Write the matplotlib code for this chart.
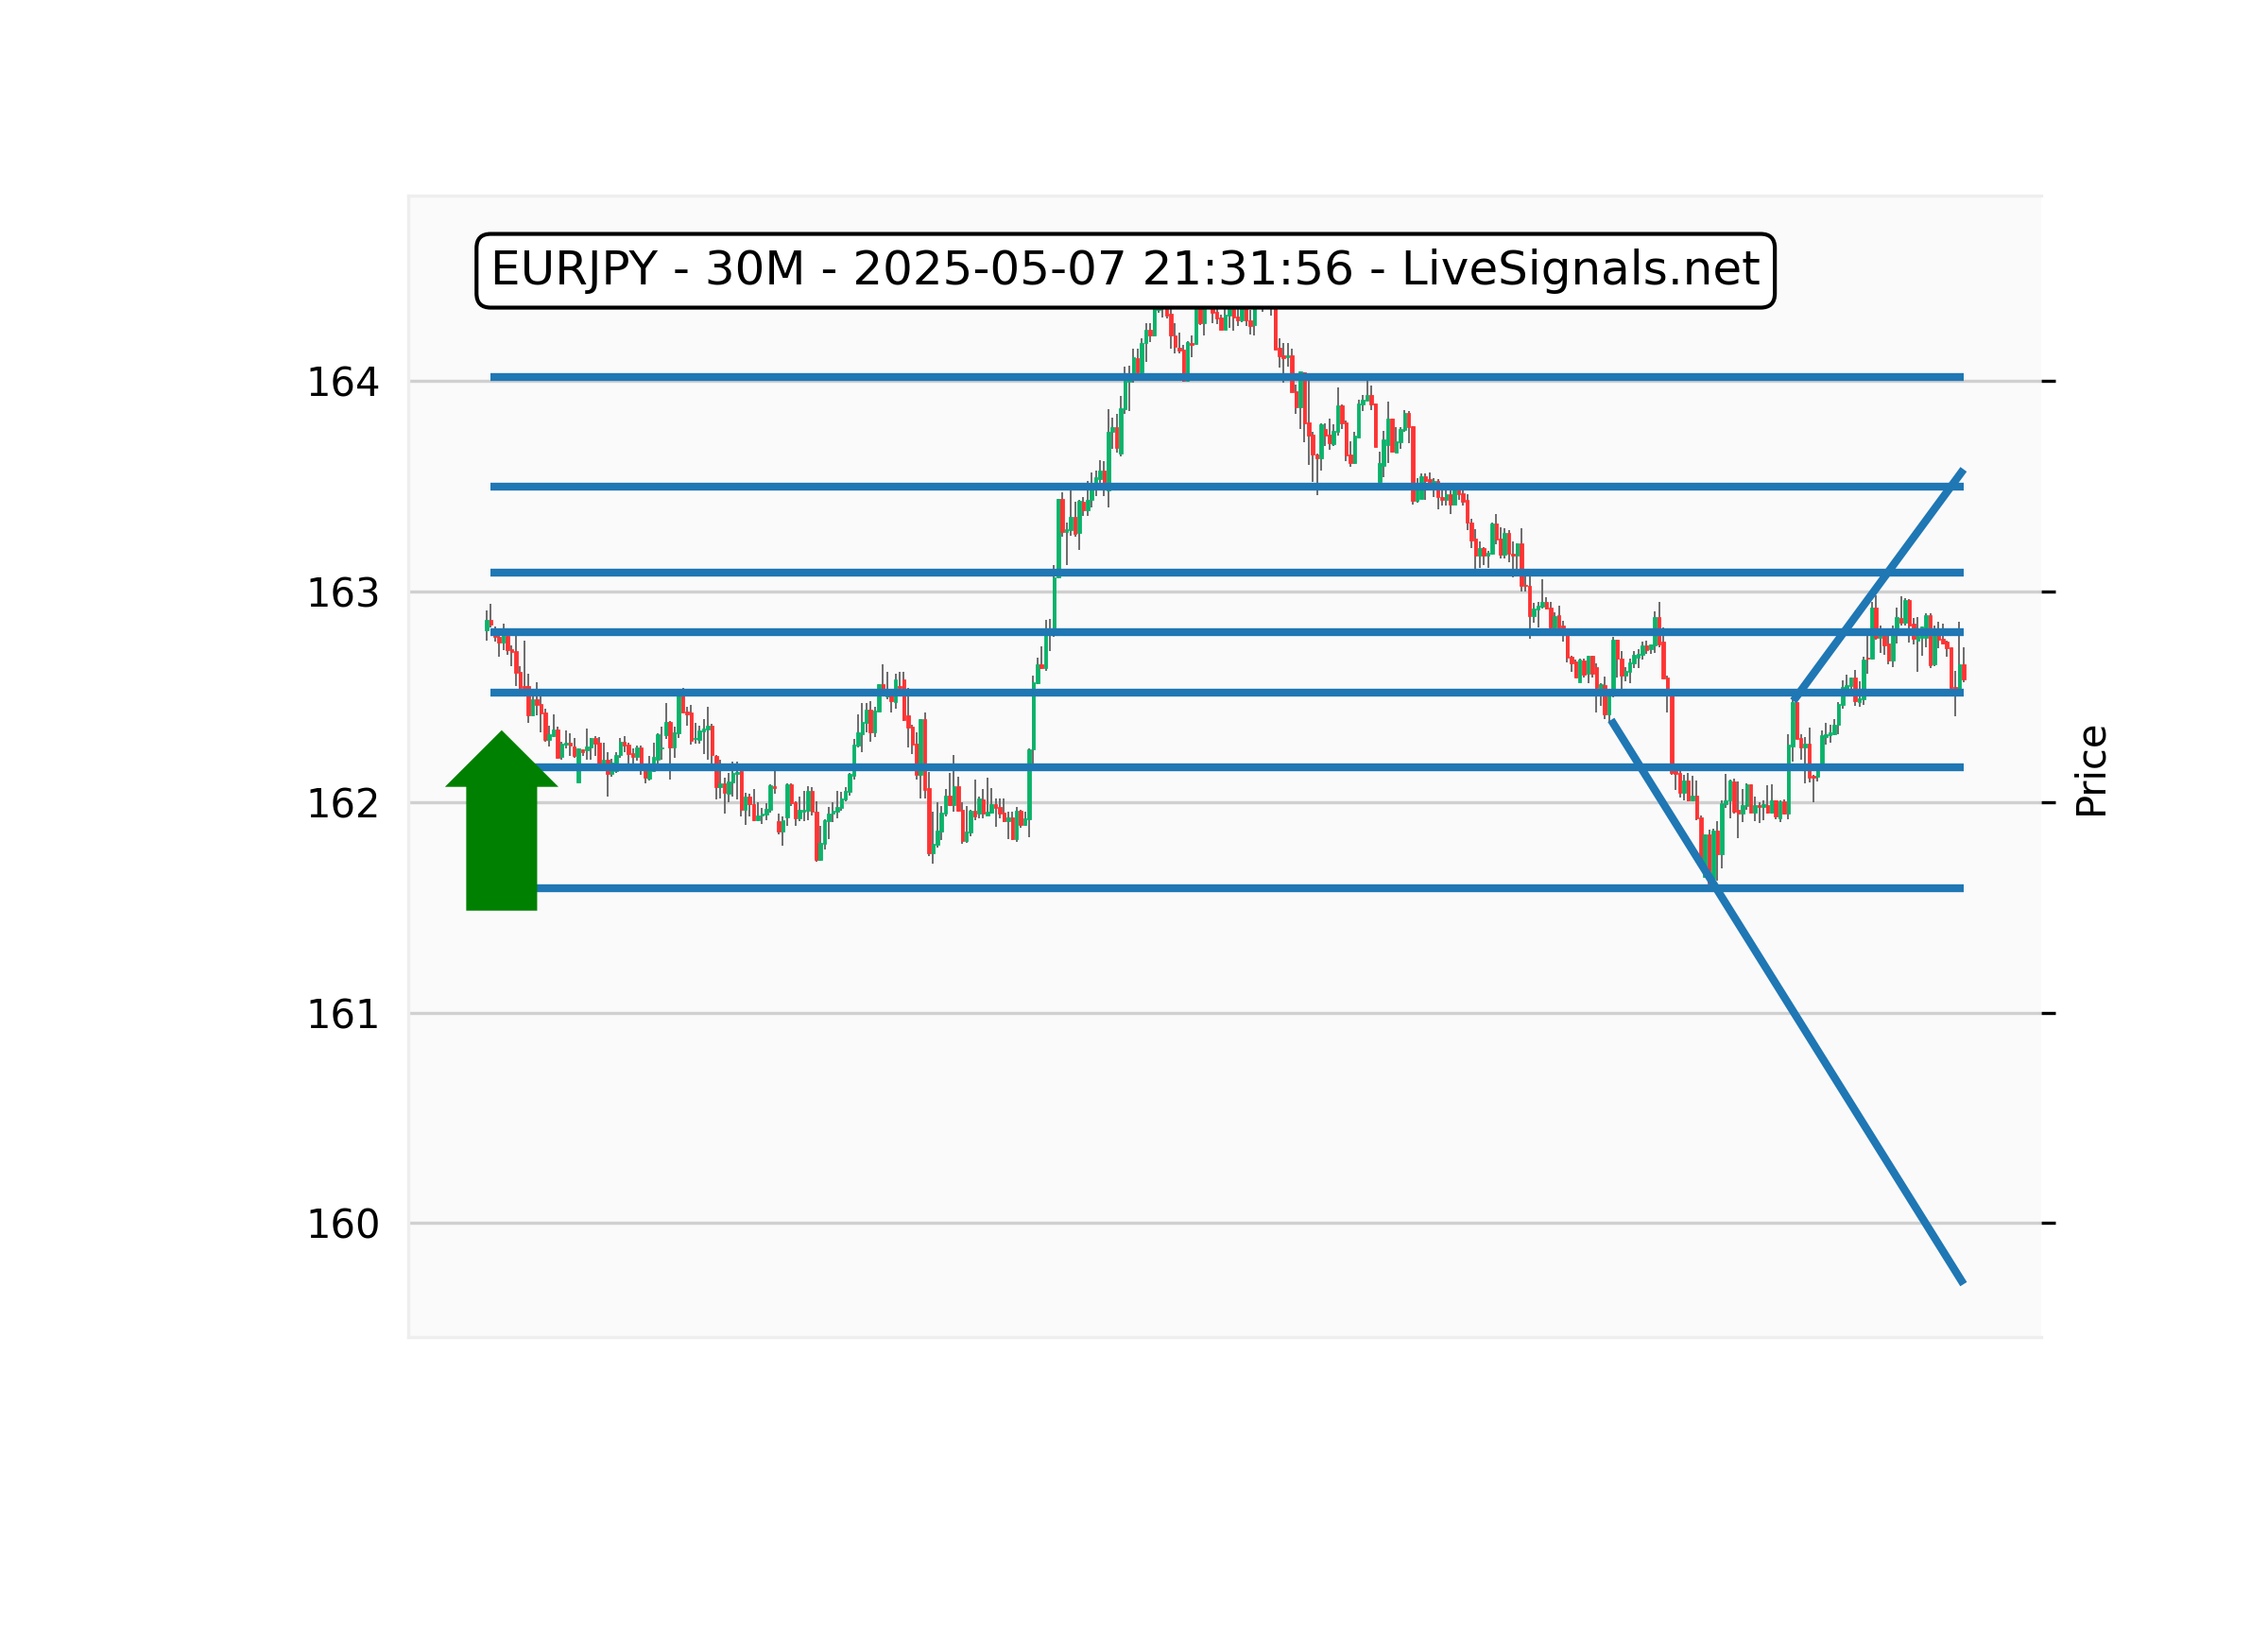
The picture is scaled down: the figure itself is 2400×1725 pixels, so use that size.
import numpy as np
import matplotlib
matplotlib.use('Agg')
import matplotlib.pyplot as plt

title = 'EURJPY - 30M - 2025-05-07 21:31:56 - LiveSignals.net'
levels = [164.018, 163.498, 163.09, 162.807, 162.52, 162.167, 161.59]
level_span = [1, 354]
down_x = [269.5, 354]
down_y = [162.39, 159.71]
up_x = [313.2, 354]
up_y = [162.48, 163.58]
arrow_x = 3.6
arrow_base = 161.484
arrow_tip = 162.341
yticks = [160, 161, 162, 163, 164]

opens = [162.816,162.864,162.81,162.786,162.756,162.79,162.727,162.717,162.619,162.55,
162.55,162.413,162.489,162.466,162.426,162.296,162.315,162.345,162.214,162.272,
162.282,162.263,162.093,162.248,162.244,162.26,162.305,162.282,162.17,162.2,
162.134,162.146,162.221,162.285,162.273,162.233,162.214,162.26,162.16,162.109,
162.146,162.203,162.255,162.318,162.381,162.258,162.326,162.508,162.43,162.426,
162.3,162.296,162.336,162.345,162.363,162.22,162.072,162.09,162.039,162.093,
162.135,162.146,161.964,162.027,161.989,161.915,161.934,161.94,161.964,162.075,
161.91,161.86,161.927,162.082,162.001,161.922,161.952,161.96,162.054,161.952,
161.725,161.802,161.907,161.945,161.955,161.97,162.012,162.048,162.124,162.266,
162.323,162.378,162.438,162.33,162.43,162.56,162.5,162.508,162.475,162.55,
162.583,162.412,162.359,162.278,162.131,162.395,162.067,161.758,161.797,161.859,
161.945,162.031,161.987,162.076,161.963,161.815,161.855,161.96,161.945,162.012,
161.937,161.949,161.992,161.977,161.949,161.91,161.928,161.825,161.96,161.892,
161.918,162.248,162.565,162.655,162.637,162.8,162.82,163.067,163.441,163.281,
163.291,163.354,163.277,163.426,163.386,163.434,163.486,163.535,163.574,163.478,
163.758,163.78,163.656,163.867,163.994,164.017,164.109,164.043,164.178,164.241,
164.214,164.338,164.38,164.37,164.32,164.218,164.156,164.147,164.0,164.181,
164.174,164.35,164.274,164.40,164.36,164.327,164.30,164.243,164.308,164.35,
164.304,164.289,164.345,164.289,164.266,164.42,164.39,164.42,164.39,164.36,
164.159,164.12,164.114,164.123,163.949,163.875,164.04,163.804,163.745,163.65,
163.634,163.77,163.745,163.70,163.76,163.882,163.804,163.65,163.61,163.733,
163.89,163.904,163.934,163.894,163.52,163.598,163.695,163.822,163.658,163.71,
163.765,163.849,163.785,163.431,163.44,163.548,163.535,163.505,163.523,163.449,
163.437,163.464,163.413,163.483,163.467,163.434,163.329,163.25,163.168,163.205,
163.168,163.179,163.324,163.25,163.175,163.277,163.18,163.172,163.227,163.033,
163.027,162.885,162.913,162.929,162.952,162.922,162.829,162.886,162.838,162.802,
162.69,162.668,162.571,162.671,162.608,162.693,162.642,162.53,162.556,162.417,
162.504,162.77,162.683,162.598,162.616,162.66,162.687,162.698,162.743,162.725,
162.743,162.877,162.76,162.593,162.504,162.145,162.138,162.043,162.103,162.006,
162.032,161.928,161.645,161.846,161.637,161.864,161.754,161.988,162.008,162.097,
161.963,161.943,161.981,162.082,161.951,161.985,161.975,161.985,161.951,162.008,
161.921,162.003,161.943,162.265,162.474,162.306,162.257,162.277,162.126,162.118,
162.16,162.309,162.317,162.321,162.366,162.462,162.504,162.552,162.59,162.474,
162.489,162.687,162.679,162.925,162.78,162.791,162.754,162.671,162.795,162.873,
162.851,162.96,162.845,162.765,162.78,162.78,162.888,162.653,162.791,162.773,
162.761,162.733,162.546,162.534,162.656]

closes = [162.864,162.842,162.786,162.756,162.797,162.72,162.712,162.613,162.544,162.542,
162.41,162.49,162.46,162.42,162.293,162.323,162.345,162.21,162.278,162.281,
162.269,162.218,162.255,162.236,162.265,162.305,162.276,162.176,162.2,162.134,
162.188,162.224,162.287,162.269,162.229,162.214,162.258,162.16,162.116,162.154,
162.215,162.32,162.258,162.381,162.258,162.333,162.508,162.423,162.418,162.291,
162.305,162.341,162.349,162.363,162.221,162.072,162.09,162.042,162.099,162.139,
162.143,161.964,162.027,161.988,161.915,161.937,161.947,161.967,162.079,162.067,
161.86,161.915,162.084,161.994,161.922,161.964,161.964,162.054,161.952,161.725,
161.806,161.915,161.945,161.96,161.977,162.016,162.052,162.132,162.273,162.33,
162.381,162.438,162.33,162.433,162.562,162.505,162.52,162.478,162.583,162.54,
162.389,162.353,162.272,162.131,162.395,162.057,161.758,161.803,161.865,161.949,
162.031,161.987,162.076,161.96,161.815,161.859,161.96,161.933,162.015,161.945,
161.952,161.989,161.971,161.945,161.91,161.928,161.825,161.96,161.892,161.922,
162.251,162.568,162.655,162.635,162.81,162.81,163.069,163.441,163.281,163.296,
163.354,163.274,163.429,163.386,163.437,163.5,163.543,163.574,163.483,163.758,
163.78,163.683,163.87,164.002,164.009,164.114,164.043,164.181,164.241,164.218,
164.346,164.36,164.35,164.311,164.214,164.162,164.144,164.0,164.185,164.17,
164.345,164.274,164.345,164.38,164.323,164.296,164.243,164.316,164.35,164.30,
164.289,164.345,164.286,164.26,164.35,164.40,164.38,164.40,164.37,164.148,
164.117,164.11,164.123,163.945,163.875,164.046,163.80,163.74,163.65,163.634,
163.792,163.74,163.706,163.762,163.885,163.80,163.647,163.61,163.74,163.894,
163.912,163.934,163.89,163.688,163.612,163.72,163.822,163.662,163.715,163.77,
163.849,163.78,163.431,163.50,163.545,163.523,163.51,163.526,163.449,163.437,
163.464,163.413,163.486,163.464,163.426,163.325,163.244,163.168,163.205,163.168,
163.183,163.324,163.247,163.175,163.277,163.177,163.172,163.227,163.027,163.026,
162.885,162.917,162.934,162.949,162.919,162.829,162.885,162.825,162.81,162.687,
162.66,162.593,162.675,162.605,162.693,162.611,162.541,162.56,162.417,162.504,
162.77,162.68,162.598,162.623,162.665,162.698,162.702,162.743,162.723,162.747,
162.877,162.75,162.587,162.504,162.138,162.133,162.043,162.103,162.006,162.032,
161.921,161.726,161.846,161.614,161.864,161.754,161.996,162.01,162.10,161.955,
161.943,161.985,162.082,161.951,161.984,161.975,161.99,161.951,162.008,161.933,
162.003,161.943,162.272,162.474,162.298,162.257,162.277,162.115,162.115,162.16,
162.317,162.321,162.332,162.369,162.465,162.546,162.556,162.59,162.477,162.493,
162.676,162.679,162.925,162.78,162.795,162.746,162.671,162.795,162.878,162.851,
162.96,162.84,162.773,162.788,162.833,162.888,162.65,162.82,162.77,162.755,
162.731,162.541,162.537,162.653,162.581]

highs = [162.909,162.943,162.834,162.82,162.849,162.82,162.745,162.79,162.643,162.767,
162.607,162.512,162.567,162.505,162.445,162.363,162.418,162.356,162.288,162.338,
162.326,162.302,162.255,162.248,162.347,162.305,162.315,162.31,162.28,162.236,
162.206,162.236,162.306,162.315,162.28,162.255,162.27,162.269,162.184,162.217,
162.281,162.326,162.36,162.472,162.385,162.356,162.52,162.543,162.45,162.459,
162.374,162.362,162.396,162.454,162.371,162.224,162.203,162.116,162.136,162.194,
162.191,162.154,162.042,162.04,162.06,161.997,161.97,161.994,162.082,162.16,
161.945,161.93,162.087,162.087,162.005,162.024,162.054,162.076,162.07,162.004,
161.885,161.92,161.975,161.997,162.054,162.05,162.07,162.139,162.299,162.418,
162.468,162.472,162.481,162.453,162.562,162.652,162.62,162.528,162.607,162.62,
162.62,162.543,162.368,162.329,162.395,162.427,162.143,161.952,161.997,161.982,
162.06,162.136,162.221,162.122,161.997,161.979,161.964,162.105,162.024,162.06,
162.114,162.064,162.015,162.019,162.019,161.952,161.955,161.975,161.963,161.952,
162.255,162.602,162.687,162.741,162.864,162.871,163.124,163.441,163.471,163.326,
163.486,163.426,163.434,163.448,163.523,163.564,163.573,163.625,163.62,163.864,
163.827,163.842,163.93,164.066,164.073,164.151,164.151,164.203,164.275,164.275,
164.36,164.38,164.40,164.39,164.36,164.275,164.23,164.17,164.19,164.218,
164.38,164.39,164.37,164.44,164.40,164.37,164.316,164.36,164.38,164.38,
164.36,164.37,164.37,164.338,164.38,164.45,164.42,164.45,164.42,164.38,
164.203,164.18,164.181,164.151,163.984,164.047,164.042,164.0,163.76,163.657,
163.80,163.80,163.822,163.792,163.967,163.89,163.813,163.713,163.76,163.912,
163.934,164.0,163.979,163.894,163.665,163.762,163.90,163.822,163.782,163.782,
163.86,163.855,163.785,163.54,163.56,163.56,163.564,163.538,163.535,163.483,
163.478,163.483,163.508,163.508,163.486,163.463,163.344,163.295,163.239,163.21,
163.192,163.329,163.366,163.307,163.302,163.292,163.236,163.227,163.299,163.075,
163.075,162.944,162.952,163.056,162.974,162.949,162.899,162.932,162.862,162.817,
162.695,162.675,162.68,162.683,162.695,162.695,162.657,162.566,162.596,162.519,
162.785,162.772,162.716,162.641,162.683,162.717,162.725,162.76,162.765,162.747,
162.904,162.952,162.829,162.60,162.51,162.17,162.145,162.13,162.137,162.123,
162.103,161.935,161.846,161.869,161.872,161.907,162.008,162.135,162.105,162.112,
162.097,162.06,162.088,162.085,162.026,162.0,162.01,162.081,162.082,162.008,
162.008,162.013,162.324,162.489,162.477,162.324,162.31,162.354,162.13,162.167,
162.339,162.377,162.369,162.392,162.474,162.58,162.604,162.593,162.626,162.574,
162.691,162.795,162.95,162.982,162.837,162.825,162.79,162.837,162.922,162.978,
162.967,162.963,162.875,162.877,162.833,162.895,162.897,162.84,162.855,162.848,
162.765,162.735,162.623,162.855,162.735]

lows = [162.768,162.827,162.764,162.692,162.723,162.697,162.643,162.553,162.535,162.53,
162.375,162.405,162.41,162.329,162.284,162.263,162.31,162.206,162.203,162.254,
162.217,162.212,162.093,162.217,162.20,162.20,162.22,162.16,162.15,162.027,
162.12,162.137,162.209,162.236,162.184,162.184,162.196,162.127,162.087,162.102,
162.143,162.184,162.203,162.299,162.105,162.209,162.303,162.423,162.362,162.272,
162.276,162.276,162.226,162.203,162.184,162.012,162.015,161.945,161.997,162.027,
162.012,161.93,161.89,161.93,161.907,161.91,161.895,161.915,161.949,162.04,
161.845,161.792,161.885,161.979,161.885,161.907,161.907,161.915,161.937,161.716,
161.72,161.773,161.824,161.904,161.922,161.96,162.005,162.03,162.105,162.259,
162.236,162.333,162.288,162.308,162.428,162.50,162.486,162.427,162.442,162.52,
162.385,162.259,162.226,162.105,162.015,162.015,161.743,161.708,161.783,161.818,
161.93,161.979,161.952,161.955,161.80,161.806,161.837,161.913,161.922,161.922,
161.934,161.945,161.88,161.922,161.903,161.824,161.818,161.81,161.877,161.885,
161.833,162.184,162.562,162.632,162.622,162.719,162.782,163.063,163.262,163.124,
163.265,163.259,163.197,163.359,163.359,163.399,163.451,163.493,163.451,163.399,
163.677,163.661,163.64,163.843,163.857,163.99,164.017,164.017,164.088,164.184,
164.211,164.323,164.30,164.295,164.151,164.129,164.129,163.998,163.998,164.111,
164.17,164.263,164.218,164.355,164.274,164.268,164.241,164.241,164.251,164.238,
164.259,164.278,164.259,164.221,164.218,164.37,164.326,164.37,164.308,164.148,
164.061,163.991,164.066,163.945,163.842,163.77,163.71,163.60,163.52,163.456,
163.572,163.69,163.673,163.691,163.74,163.77,163.62,163.59,163.605,163.733,
163.857,163.904,163.86,163.685,163.50,163.541,163.608,163.658,163.658,163.676,
163.758,163.703,163.411,163.422,163.44,163.434,163.478,163.449,163.389,163.407,
163.407,163.366,163.411,163.434,163.407,163.292,163.205,163.072,163.112,163.124,
163.112,163.175,163.224,163.157,163.157,163.138,163.067,163.108,163.0,163.0,
162.777,162.852,162.829,162.919,162.914,162.817,162.81,162.81,162.762,162.665,
162.62,162.593,162.571,162.593,162.566,162.593,162.426,162.456,162.392,162.376,
162.499,162.593,162.536,162.574,162.566,162.635,162.638,162.675,162.705,162.705,
162.71,162.735,162.585,162.427,162.13,162.058,162.022,162.01,162.003,162.003,
161.913,161.72,161.64,161.614,161.62,161.625,161.684,161.973,161.924,161.944,
161.827,161.906,161.963,161.948,161.909,161.90,161.914,161.943,161.943,161.918,
161.903,161.939,161.916,162.193,162.298,162.2,162.09,162.093,162.001,162.097,
162.15,162.272,162.28,162.317,162.324,162.441,162.5,162.504,162.456,162.451,
162.462,162.611,162.676,162.77,162.706,162.701,162.653,162.641,162.755,162.84,
162.84,162.758,162.75,162.62,162.695,162.736,162.635,162.645,162.731,162.75,
162.69,162.534,162.408,162.501,162.567]


def draw_candles(ax):
    o = np.array(opens)
    c = np.array(closes)
    x = np.arange(len(o))
    colors = np.where(c >= o, '#0bb36a', '#ff3333')
    ax.vlines(x, lows, highs, color='#666666', linewidth=0.45, zorder=2)
    ax.bar(x, np.abs(c - o), bottom=np.minimum(o, c), width=0.8, color=colors,
           edgecolor=colors, linewidth=0.2, zorder=3)


def main():
    fig = plt.figure(figsize=(8, 5.75), dpi=300)
    ax = fig.add_axes([0.18, 0.18, 0.72, 0.70])
    ax.set_facecolor('#fafafa')

    ax.grid(True, axis='y', color='#d0d0d0', linewidth=0.8, zorder=1)
    ax.set_axisbelow(True)
    draw_candles(ax)

    for level in levels:
        ax.plot(level_span, [level, level], color='tab:blue', linewidth=2, zorder=4,
                solid_capstyle='butt')
    ax.plot(down_x, down_y, color='tab:blue', linewidth=2, zorder=4, solid_capstyle='butt')
    ax.plot(up_x, up_y, color='tab:blue', linewidth=2, zorder=4, solid_capstyle='butt')

    ax.arrow(arrow_x, arrow_base, 0, arrow_tip - arrow_base, width=17, head_width=27.2,
             head_length=0.269, length_includes_head=True, color='green', linewidth=0, zorder=5)

    ax.text(0.0505, 0.954, title, transform=ax.transAxes, fontsize=12, va='top', zorder=6,
            bbox=dict(boxstyle='round', facecolor='white', edgecolor='black'))

    ax.set_xlim(-18.8, 372.6)
    ax.set_ylim(159.461, 164.88)
    ax.set_xticks([])
    ax.set_yticks(yticks)
    ax.tick_params(axis='y', left=False, labelleft=True, right=True, labelright=False)
    ax.yaxis.set_label_position('right')
    ax.set_ylabel('Price')
    for side in ['top', 'left', 'bottom']:
        ax.spines[side].set_color('#eeeeee')
    ax.spines['right'].set_visible(False)

    fig.savefig('out.png', dpi=300)


if __name__ == "__main__":
    main()
